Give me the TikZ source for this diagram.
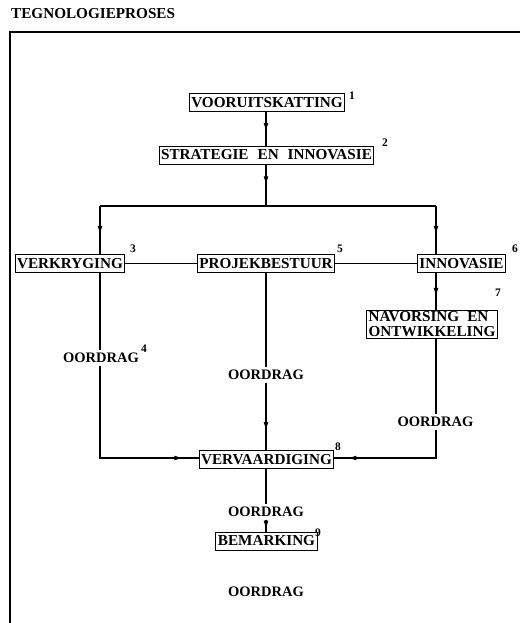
\documentclass[tikz,border=0pt]{standalone}
\usepackage{fontspec}
\setmainfont{Liberation Serif}
\usetikzlibrary{calc,arrows.meta,decorations.markings}
\begin{document}
\begin{tikzpicture}[x=1pt,y=-1pt,
  box/.style={draw,line width=1pt,inner xsep=2pt,inner ysep=1.5pt,minimum height=18pt,font=\fontsize{15.2}{15}\selectfont\bfseries},
  lbl/.style={font=\fontsize{14.5}{15}\selectfont\bfseries,inner sep=2.5pt},
  num/.style={font=\fontsize{11.5}{12}\selectfont\bfseries,inner sep=0pt},
  conn/.style={line width=1.1pt},
  midarr/.style={postaction={decorate},decoration={markings,mark=at position #1 with {\arrow{Latex[length=9pt,width=4.8pt]}}}}
]
\useasboundingbox (0,0) rectangle (520,623);

% title and frame
\node[anchor=west,font=\fontsize{15.2}{16}\selectfont\bfseries,inner sep=0pt] (title) at (11,14) {TEGNOLOGIEPROSES};
\coordinate (fbl) at (10,623);
\coordinate (ftl) at (10,32);
\coordinate (ftr) at (520,32);
\draw[conn] (fbl) -- (ftl) -- (ftr);

% boxes
\node[box] (v1) at (267,102.5) {VOORUITSKATTING};
\node[box] (s2) at (266.5,155) {STRATEGIE\hspace{9pt}EN\hspace{9pt}INNOVASIE};
\node[box] (verk) at (70,263.5) {VERKRYGING};
\node[box] (proj) at (266,263.5) {PROJEKBESTUUR};
\node[box] (inno) at (461.5,263.5) {INNOVASIE};
\node[box,align=left] (nav) at (432,324.5) {NAVORSING\hspace{8pt}EN\\ONTWIKKELING};
\node[box] (verv) at (266.5,459.5) {VERVAARDIGING};
\node[box] (bem) at (266.5,541) {BEMARKING};

% transfer labels
\node[lbl] (o4) at (101,358) {OORDRAG};
\node[lbl] (o5) at (266,375) {OORDRAG};
\node[lbl] (o7) at (435.5,422) {OORDRAG};
\node[lbl] (o8) at (266,512) {OORDRAG};
\node[lbl] (o9) at (266,592) {OORDRAG};

% numbers
\node[num] (n1) at (352,96) {1};
\node[num] (n2) at (385,143) {2};
\node[num] (n3) at (133,249) {3};
\node[num] (n4) at (144,349) {4};
\node[num] (n5) at (340,249) {5};
\node[num] (n6) at (515,249) {6};
\node[num] (n7) at (498,293) {7};
\node[num] (n8) at (338,447) {8};
\node[num] (n9) at (318,533) {9};

% junctions
\coordinate (jt) at (266,206);
\coordinate (jl) at (100,206);
\coordinate (jr) at (436,206);
\coordinate (bl) at (100,458);
\coordinate (br) at (436,458);

% connectors
\draw[conn,midarr=0.6] (v1.south -| jt) -- (s2.north -| jt);
\draw[conn,midarr=0.5] (s2.south -| jt) -- (jt);
\draw[conn] (jl) -- (jr);
\draw[conn,midarr=0.6] (jl) -- (verk.north -| jl);
\draw[conn,midarr=0.6] (jr) -- (inno.north -| jr);
\draw[conn] (verk.east) -- (proj.west);
\draw[conn] (proj.east) -- (inno.west);
\draw[conn] (verk.south -| jl) -- (o4.north -| jl);
\draw[conn,midarr=0.92] (o4.south -| jl) -- (bl) -- (verv.west |- bl);
\draw[conn] (proj.south -| jt) -- (o5.north -| jt);
\draw[conn,midarr=0.72] (o5.south -| jt) -- (verv.north -| jt);
\draw[conn,midarr=0.65] (inno.south -| jr) -- (nav.north -| jr);
\draw[conn] (nav.south -| jr) -- (o7.north -| jr);
\draw[conn,midarr=0.9] (o7.south -| jr) -- (br) -- (verv.east |- br);
\draw[conn] (verv.south -| jt) -- (o8.north -| jt);
\draw[conn,midarr=0.85] (o8.south -| jt) -- (bem.north -| jt);
\end{tikzpicture}
\end{document}
